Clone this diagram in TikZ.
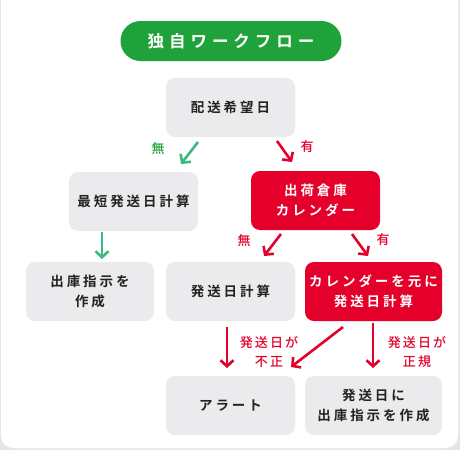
\documentclass[tikz,border=0pt]{standalone}
\usepackage{fontspec}
\usetikzlibrary{arrows.meta}
\newfontfamily\jpbox[LetterSpace=22]{Noto Sans CJK JP Bold}
\newfontfamily\jptitle[LetterSpace=30]{Noto Sans CJK JP Bold}
\newfontfamily\jplab[LetterSpace=16]{Noto Sans CJK JP Medium}
\definecolor{titlegreen}{HTML}{1FA23A}
\definecolor{arrgreen}{HTML}{3DBA7F}
\definecolor{myred}{HTML}{E4002B}
\definecolor{boxgray}{HTML}{EBEBED}
\definecolor{edgegray}{HTML}{E6E6E6}
\definecolor{txt}{HTML}{222222}
\tikzset{
  graybox/.style={rectangle, rounded corners=9pt, fill=boxgray, text=txt, align=center,
    minimum width=129pt, minimum height=59pt, inner sep=0pt, font=\jpbox\fontsize{13.5}{19.5}\selectfont},
  redbox/.style={graybox, fill=myred, text=white},
  garrow/.style={draw=arrgreen, line width=2.6pt, -{Straight Barb[length=6pt,width=13pt,line width=2.6pt]}},
  rarrow/.style={garrow, draw=myred},
  lab/.style={text=myred, align=center, inner sep=0pt, font=\jplab\fontsize{13}{19.5}\selectfont},
}
\begin{document}
\begin{tikzpicture}[x=1pt,y=-1pt]
\useasboundingbox (0,0) rectangle (460,450);
\fill[edgegray] (0,0) rectangle (460,450);
\fill[white, rounded corners=12pt] (1,-12) rectangle (458,448);
% title
\node[rectangle, rounded corners=20pt, fill=titlegreen, text=white, minimum width=221pt, minimum height=40pt, inner sep=0pt,
  font=\jptitle\fontsize{16.5}{20}\selectfont] (title) at (231,41) {独自ワークフロー};
% boxes
\node[graybox] (top) at (230.5,107.5) {配送希望日};
\node[graybox] (short) at (133.5,201.5) {最短発送日計算};
\node[redbox] (cal) at (315.5,200.5) {出荷倉庫\\カレンダー};
\node[graybox, minimum width=128pt] (ship1) at (90,291.5) {出庫指示を\\作成};
\node[graybox] (calc) at (230.5,291.5) {発送日計算};
\node[redbox, minimum width=137pt] (calc2) at (373.5,291.5) {カレンダーを元に\\発送日計算};
\node[graybox] (alert) at (230.5,405.5) {アラート};
\node[graybox, minimum width=137pt] (ship2) at (373.5,405.5) {発送日に\\出庫指示を作成};
% arrow coordinates
\coordinate (a1s) at (198,142); \coordinate (a1e) at (181,164);
\coordinate (a2s) at (277,141); \coordinate (a2e) at (292,162);
\coordinate (a3s) at (102,232); \coordinate (a3e) at (102,259);
\coordinate (a4s) at (281,234); \coordinate (a4e) at (264,256);
\coordinate (a5s) at (352,234); \coordinate (a5e) at (368,256);
\coordinate (a6s) at (227,327); \coordinate (a6e) at (227,368);
\coordinate (a7s) at (343,327); \coordinate (a7e) at (291,367);
\coordinate (a8s) at (373,323); \coordinate (a8e) at (373,368);
\draw[garrow] (a1s) -- (a1e);
\draw[rarrow] (a2s) -- (a2e);
\draw[garrow] (a3s) -- (a3e);
\draw[rarrow] (a4s) -- (a4e);
\draw[rarrow] (a5s) -- (a5e);
\draw[rarrow] (a6s) -- (a6e);
\draw[rarrow] (a7s) -- (a7e);
\draw[rarrow] (a8s) -- (a8e);
% labels
\node[lab, text=titlegreen] (l1) at (158,149) {無};
\node[lab] (l2) at (307,147) {有};
\node[lab] (l3) at (244,241) {無};
\node[lab] (l4) at (383,240) {有};
\node[lab] (l5) at (269,352) {発送日が\\不正};
\node[lab] (l6) at (417,352) {発送日が\\正規};
\end{tikzpicture}
\end{document}
